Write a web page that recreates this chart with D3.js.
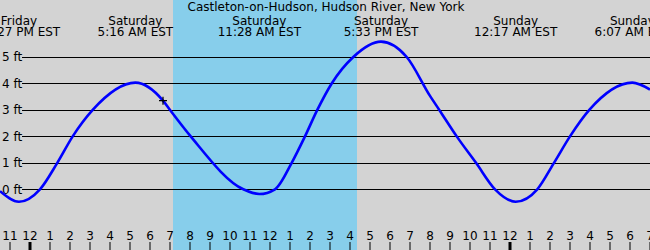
<!DOCTYPE html>
<html>
<head>
<meta charset="utf-8">
<script src="https://cdn.jsdelivr.net/npm/d3@7"></script>
<style>
  body { margin: 0; padding: 0; }
  svg { display: block; font-family: "DejaVu Sans", sans-serif; }
</style>
</head>
<body>
<div id="chart"></div>
<script>
// hours are counted from Saturday 00:00 EST
var title = "Castleton-on-Hudson, Hudson River, New York";

// tide curve (hour, feet)
var curveHours = [-1.5, -0.55, 0.5, 1.365, 2.135, 3.135, 5.267, 6.65, 7.0, 8.035, 10.665,
    11.467, 12.25, 13.085, 13.75, 14.365, 15.085, 16.165, 17.55, 18.835, 20.0, 20.465, 21.335,
    22.3, 23.25, 24.283, 25.365, 26.2, 27.0, 27.965, 30.117, 31.0];
var curveFeet = [-0.07, -0.47, 0, 1, 2, 3, 4.03, 3.35, 3, 2, 0,
    -0.18, 0, 1, 2, 3, 4, 5, 5.58, 5, 3.53, 3, 2,
    1, 0, -0.47, 0, 1, 2, 3, 4.03, 3.77];

// high / low events shown along the top
var eventHours = [-0.55, 5.267, 11.467, 17.55, 24.283, 30.117];
var eventDays = ["Friday", "Saturday", "Saturday", "Saturday", "Sunday", "Sunday"];
var eventTimes = ["11:27 PM EST", "5:16 AM EST", "11:28 AM EST", "5:33 PM EST", "12:17 AM EST", "6:07 AM EST"];

// daylight band (sunrise, sunset)
var daylight = [7.15, 16.35];

// current time marker
var nowHour = 6.65;
var nowFeet = 3.35;

var feetTicks = [0, 1, 2, 3, 4, 5];
var hourTicks = d3.range(-1, 32);

var width = 650, height = 250;

var x = d3.scaleLinear().domain([-1.5, 31]).range([0, 650]);
var y = d3.scaleLinear().domain([0, 5]).range([189.3, 57]);

var svg = d3.select('#chart')
    .append('svg')
    .attr('width', width)
    .attr('height', height);

svg.append('rect')
    .attr('width', width)
    .attr('height', height)
    .attr('fill', '#d3d3d3');

svg.append('rect')
    .attr('x', x(daylight[0]))
    .attr('y', 0)
    .attr('width', x(daylight[1]) - x(daylight[0]))
    .attr('height', height)
    .attr('fill', '#87ceeb');

// horizontal grid + labels
svg.selectAll('.grid')
    .data(feetTicks)
    .enter().append('line')
    .attr('x1', 22)
    .attr('x2', width)
    .attr('y1', function (d) { return Math.round(y(d)) + 0.5; })
    .attr('y2', function (d) { return Math.round(y(d)) + 0.5; })
    .attr('stroke', '#000')
    .attr('stroke-width', 1);

svg.selectAll('.ylab')
    .data(feetTicks)
    .enter().append('text')
    .attr('x', 2)
    .attr('y', function (d) { return y(d); })
    .attr('dy', '0.35em')
    .attr('font-size', 12)
    .attr('fill', '#000')
    .text(function (d) { return d + ' ft'; });

// tide curve
var pts = curveHours.map(function (h, i) { return [h, curveFeet[i]]; });
var line = d3.line()
    .x(function (d) { return x(d[0]); })
    .y(function (d) { return y(d[1]); })
    .curve(d3.curveMonotoneX);

svg.append('path')
    .datum(pts)
    .attr('d', line)
    .attr('fill', 'none')
    .attr('stroke', '#0000ff')
    .attr('stroke-width', 2.6);

// marker
var mx = x(nowHour), my = y(nowFeet);
svg.append('path')
    .attr('d', 'M' + (mx - 4) + ',' + my + 'H' + (mx + 4) + 'M' + mx + ',' + (my - 4) + 'V' + (my + 4))
    .attr('stroke', '#000')
    .attr('stroke-width', 1.2);

// top labels
svg.append('text')
    .attr('x', 326)
    .attr('y', 11)
    .attr('text-anchor', 'middle')
    .attr('font-size', 12)
    .text(title);

svg.selectAll('.eday')
    .data(eventHours)
    .enter().append('text')
    .attr('x', function (d) { return x(d); })
    .attr('y', 25)
    .attr('text-anchor', 'middle')
    .attr('font-size', 12)
    .text(function (d, i) { return eventDays[i]; });

svg.selectAll('.etime')
    .data(eventHours)
    .enter().append('text')
    .attr('x', function (d) { return x(d); })
    .attr('y', 36)
    .attr('text-anchor', 'middle')
    .attr('font-size', 12)
    .text(function (d, i) { return eventTimes[i]; });

// bottom hour axis
function hourLabel(h) {
    var k = ((h % 12) + 12) % 12;
    return k === 0 ? 12 : k;
}

svg.selectAll('.tick')
    .data(hourTicks)
    .enter().append('line')
    .attr('x1', function (d) { return x(d); })
    .attr('x2', function (d) { return x(d); })
    .attr('y1', 242)
    .attr('y2', height)
    .attr('stroke', '#000')
    .attr('stroke-width', function (d) { return d % 24 === 0 ? 3 : 1; });

svg.selectAll('.xlab')
    .data(hourTicks)
    .enter().append('text')
    .attr('x', function (d) { return x(d); })
    .attr('y', 240)
    .attr('text-anchor', 'middle')
    .attr('font-size', 12)
    .text(hourLabel);
</script>
</body>
</html>
